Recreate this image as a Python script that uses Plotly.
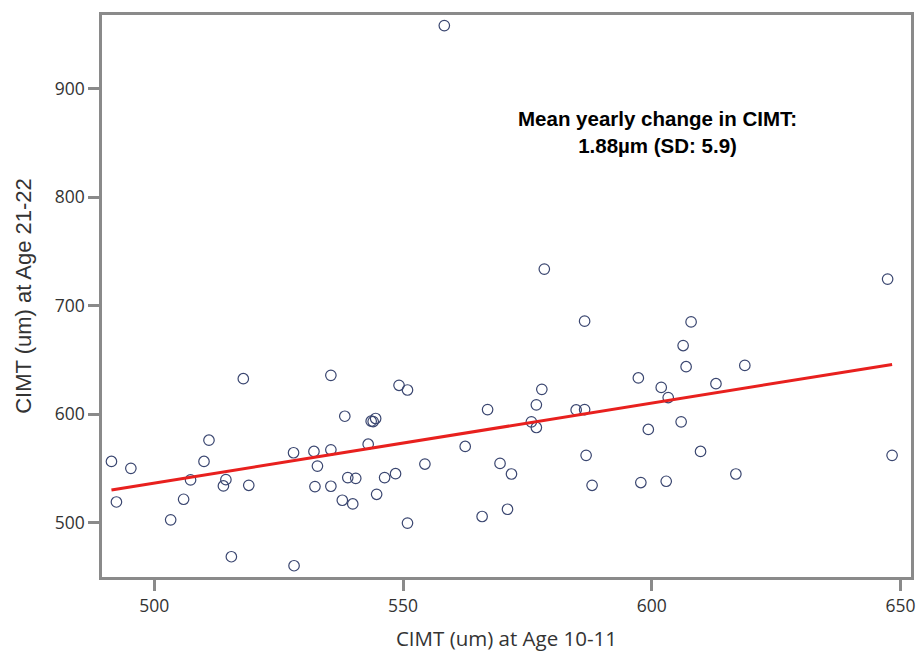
import plotly.graph_objects as go

# CIMT (um) at age 10-11 (x) and at age 21-22 (y)
cimt_10_11 = [491.4, 492.4, 495.3, 503.3, 505.9, 507.3, 510.0, 511.0, 513.9, 514.4,
              515.5, 517.9, 519.0, 528.0, 528.1, 532.1, 532.8, 532.3, 535.5, 535.5,
              535.5, 537.8, 538.3, 538.9, 539.9, 540.5, 543.0, 543.6, 544.0, 544.5,
              544.7, 546.3, 548.5, 549.2, 550.9, 550.9, 554.4, 562.5, 565.9, 567.0,
              569.5, 571.8, 571.0, 575.8, 576.8, 576.8, 577.9, 586.5, 584.8, 586.5,
              586.8, 588.0, 597.3, 597.8, 599.3, 601.9, 602.9, 603.3, 605.9, 606.3,
              606.9, 607.9, 609.8, 612.9, 616.9, 618.7, 648.3, 578.4, 647.4, 558.3]
cimt_21_22 = [556.3, 518.9, 549.9, 502.4, 521.4, 539.2, 556.3, 575.9, 533.7, 539.5,
              468.4, 632.6, 534.3, 564.3, 460.1, 565.5, 552.0, 533.1, 635.7, 567.0,
              533.4, 520.5, 598.0, 541.4, 517.1, 540.7, 572.2, 593.4, 593.1, 595.9,
              526.0, 541.4, 545.0, 626.5, 622.2, 499.4, 553.9, 570.1, 505.5, 604.1,
              554.5, 544.7, 512.2, 592.8, 608.5, 587.6, 622.8, 685.7, 603.8, 604.1,
              561.9, 534.3, 633.3, 536.8, 585.8, 624.6, 538.0, 615.2, 592.8, 663.2,
              643.7, 685.0, 565.5, 628.0, 544.7, 644.9, 561.9, 733.7, 724.5, 958.3]

# fitted regression line end points
fit_x = [491.4, 648.3]
fit_y = [530.0, 645.8]

x_ticks = [500, 550, 600, 650]
y_ticks = [500, 600, 700, 800, 900]

annotation_text = "<b>Mean yearly change in CIMT:<br>1.88µm (SD: 5.9)</b>"

fig = go.Figure()
fig.add_trace(go.Scatter(
    x=cimt_10_11, y=cimt_21_22, mode="markers",
    marker=dict(symbol="circle-open", size=10.5, color="#3a4670", line=dict(width=1.2)),
    showlegend=False, hoverinfo="x+y"))
fig.add_trace(go.Scatter(
    x=fit_x, y=fit_y, mode="lines",
    line=dict(color="#e8201e", width=3), showlegend=False))

axis_common = dict(
    showline=True, linecolor="#8a8a8a", linewidth=2.5, mirror=True,
    ticks="outside", ticklen=11, tickwidth=2.5, tickcolor="#8a8a8a",
    showgrid=False, zeroline=False,
    tickfont=dict(family="Open Sans", size=17.5, color="#333333"),
)

fig.update_layout(
    width=921, height=652,
    margin=dict(l=102, r=5, t=15, b=73),
    paper_bgcolor="white", plot_bgcolor="white",
    xaxis=dict(range=[489.5, 652.1], tickvals=x_ticks, **axis_common,
               title=dict(text="CIMT (um) at Age 10-11", standoff=16,
                          font=dict(family="Open Sans", size=20.5, color="#333333"))),
    yaxis=dict(range=[449.7, 968.1], tickvals=y_ticks, **axis_common,
               title=dict(text="CIMT (um) at Age 21-22", standoff=18,
                          font=dict(family="Liberation Sans", size=22, color="#333333"))),
    annotations=[dict(
        x=0.687, y=0.791, xref="paper", yref="paper", xanchor="center", yanchor="middle",
        text=annotation_text, showarrow=False, align="center",
        font=dict(family="Liberation Sans", size=20.5, color="black"))],
)

fig.write_html("out.html", config={"displayModeBar": False},
               post_script="document.body.style.margin='0';")
